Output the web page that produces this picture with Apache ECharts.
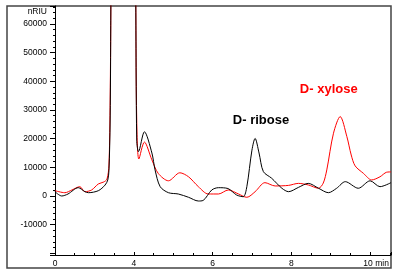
<!DOCTYPE html>
<html>
<head>
<meta charset="utf-8">
<script src="https://cdn.jsdelivr.net/npm/echarts@6/dist/echarts.min.js"></script>
<style>
html,body{margin:0;padding:0;background:#fff;}
#chart{width:396px;height:276px;}
</style>
</head>
<body>
<div id="chart"></div>
<script>
// Retention time (min) and detector response (nRIU)
var riboseT = [2.00,2.17,2.33,2.59,2.76,2.85,3.10,3.27,3.34,3.37,3.40,3.42,3.50,3.95,4.05,4.075,4.12,4.27,4.46,4.54,4.67,4.88,5.13,5.39,5.64,5.76,5.98,6.15,6.39,6.61,6.78,6.87,7.00,7.08,7.18,7.29,7.50,7.76,7.93,8.18,8.43,8.69,8.94,9.15,9.37,9.70,10.00,10.25,10.53];
var riboseV = [1500,0,700,2900,1500,1150,1850,3800,5600,9000,26500,70000,250000,250000,70000,19500,15500,22400,15000,9100,3250,1150,700,-450,-1750,-1550,2100,2900,2600,350,-250,3250,16000,20100,15000,8500,6200,2700,1500,3000,4400,2700,1150,2700,5000,2700,5300,3250,4650];
var xyloseT = [2.00,2.25,2.43,2.63,2.76,2.93,3.10,3.24,3.32,3.37,3.40,3.42,3.50,3.95,4.05,4.075,4.13,4.27,4.46,4.62,4.88,5.17,5.39,5.64,5.89,6.15,6.40,6.66,6.87,7.08,7.33,7.59,7.93,8.18,8.43,8.69,8.81,8.90,9.07,9.24,9.41,9.52,9.62,9.83,10.04,10.25,10.42,10.53];
var xyloseV = [1850,1150,2100,3250,1500,2100,4200,4900,5900,10800,33500,70000,250000,250000,70000,26500,12900,18800,12600,7900,5300,8100,6700,3250,700,700,2100,700,-450,1500,4650,3500,3700,4400,3850,2700,4500,9100,21900,27700,20700,14300,10500,7900,5600,6700,8300,8400];
var xTickValues = [2,4,6,8,10];
var xTickLabels = ['0','4','6','8','10 min'];
var yTickValues = [-10000,0,10000,20000,30000,40000,50000,60000];
var yTickLabels = ['-10000','0','10000','20000','30000','40000','50000','60000'];
var annotations = [
  {name:'D- ribose', t:7.23, v:26500, color:'#000000'},
  {name:'D- xylose', t:8.95, v:37300, color:'#ff0000'}
];

function zip(t, v){ var out=[]; for(var i=0;i<t.length;i++){ out.push([t[i], v[i]]); } return out; }
function near(a,b){ return Math.abs(a-b) < 1e-6; }

var FONT = 'Liberation Sans';
var chart = echarts.init(document.getElementById('chart'), null, {renderer:'canvas'});
var option = {
  animation:false,
  backgroundColor:'#ffffff',
  grid:{left:55, right:5, top:6, bottom:21, containLabel:false},
  graphic:[{
    type:'rect', silent:true, z:0,
    shape:{x:7, y:6, width:384, height:262},
    style:{fill:'none', stroke:'#444444', lineWidth:1.5}
  }],
  xAxis:{
    type:'value', min:2, max:10.53, interval:2,
    axisLine:{show:true, onZero:false, lineStyle:{color:'#000', width:1}},
    axisTick:{show:true, inside:true, length:3, lineStyle:{color:'#000'}},
    minorTick:{show:true, splitNumber:4, length:2, lineStyle:{color:'#000'}},
    splitLine:{show:false},
    axisLabel:{
      margin:4, color:'#000', fontFamily:FONT, fontSize:8.5,
      showMaxLabel:false,
      formatter:function(val){
        for(var i=0;i<xTickValues.length;i++){
          if(near(val, xTickValues[i])){
            var s = xTickLabels[i];
            return s.indexOf(' ')>0 ? '{m|'+s+'}' : s;
          }
        }
        return '';
      },
      rich:{m:{fontFamily:FONT, fontSize:8.5, color:'#000', padding:[0,0,0,12]}}
    }
  },
  yAxis:{
    type:'value', min:-20580, max:66270, minInterval:10000, maxInterval:10000,
    name:'nRIU', nameLocation:'end', nameGap:-6,
    nameTextStyle:{color:'#000', fontFamily:FONT, fontSize:8.5, align:'right', verticalAlign:'middle', padding:[0,8,0,0]},
    axisLine:{show:true, onZero:false, lineStyle:{color:'#000', width:1}},
    axisTick:{show:true, inside:false, length:5, lineStyle:{color:'#000'}},
    minorTick:{show:true, splitNumber:5, length:2, lineStyle:{color:'#000'}},
    splitLine:{show:false},
    axisLabel:{
      margin:8, color:'#000', fontFamily:FONT, fontSize:8.5,
      showMinLabel:false, showMaxLabel:false,
      formatter:function(val){
        for(var i=0;i<yTickValues.length;i++){
          if(near(val, yTickValues[i])) return yTickLabels[i];
        }
        return '';
      }
    }
  },
  series:[
    {
      name:'D- ribose', type:'line', data:zip(riboseT, riboseV),
      showSymbol:false, smooth:0.3, clip:true, z:3,
      lineStyle:{color:'#000000', width:1},
      markPoint:{
        symbol:'circle', symbolSize:1, itemStyle:{color:'rgba(0,0,0,0)'},
        label:{show:true, position:'inside', formatter:'{b}', color:annotations[0].color,
               fontFamily:FONT, fontSize:13, fontWeight:'bold'},
        data:[{name:annotations[0].name, coord:[annotations[0].t, annotations[0].v]}]
      }
    },
    {
      name:'D- xylose', type:'line', data:zip(xyloseT, xyloseV),
      showSymbol:false, smooth:0.3, clip:true, z:2,
      lineStyle:{color:'#ff0000', width:1},
      markPoint:{
        symbol:'circle', symbolSize:1, itemStyle:{color:'rgba(0,0,0,0)'},
        label:{show:true, position:'inside', formatter:'{b}', color:annotations[1].color,
               fontFamily:FONT, fontSize:13, fontWeight:'bold'},
        data:[{name:annotations[1].name, coord:[annotations[1].t, annotations[1].v]}]
      }
    }
  ]
};
chart.setOption(option);
</script>
</body>
</html>
